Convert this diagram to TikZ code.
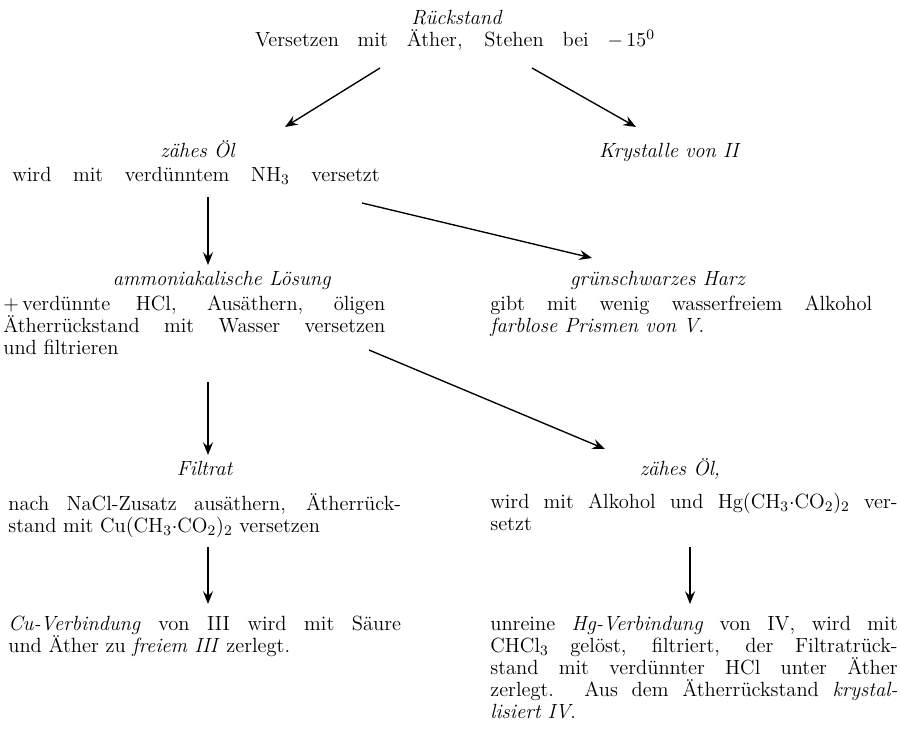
\documentclass[tikz,border=0pt]{standalone}
\usepackage{amsmath}
\usetikzlibrary{arrows.meta}

\begin{document}
\begin{tikzpicture}[x=0.55pt, y=-0.55pt,
	zeile/.style={inner sep=0pt, anchor=base, font=\fontsize{11.3}{12.1}\selectfont},
	absatz/.style={inner sep=0pt, anchor=north west, align=justify, font=\fontsize{11.3}{12.1}\selectfont, execute at begin node={\tolerance=10000\hbadness=10000\relax}},
	pfeil/.style={-{Stealth[length=7pt,width=5.5pt,inset=2.5pt]}, line width=0.75pt}]
			\useasboundingbox (0,0) rectangle (900,734);

			\draw (457,25) node[zeile] (rueck) {\textit{Rückstand}};
			\draw (455,47) node[zeile] (vers) {\makebox[220pt][s]{Versetzen mit Äther, Stehen bei $-\,15^0$}};
			\draw (198,158) node[zeile] (oel) {\textit{zähes Öl}};
			\draw (670,158) node[zeile] (kryst) {\textit{Krystalle von II}};
			\draw (12,182) node[zeile, anchor=base west] (nh) {\makebox[202pt][s]{wird mit verdünntem NH$_3$ versetzt}};
			\draw (222,286) node[zeile] (ammon) {\textit{ammoniakalische Lösung}};
			\draw (658,286) node[zeile] (harz) {\textit{grünschwarzes Harz}};
			\draw (3,295) node[absatz, text width=210pt] (loes) {+\,verdünnte HCl, Ausäthern, öligen\linebreak Ätherrückstand mit Wasser versetzen\linebreak und filtrieren};
			\draw (490,295) node[absatz, text width=210pt] (prism) {gibt mit wenig wasserfreiem Alkohol\linebreak \textit{farblose Prismen von V.}};
			\draw (205,475) node[zeile] (filtrat) {\textit{Filtrat}};
			\draw (680,475) node[zeile] (oelb) {\textit{zähes Öl,}};
			\draw (8,493) node[absatz, text width=216pt] (nacl) {nach NaCl-Zusatz ausäthern, Ätherrück-\linebreak stand mit Cu(CH$_3\cdot$CO$_2$)$_2$ versetzen};
			\draw (490,493) node[absatz, text width=224pt] (hgac) {wird mit Alkohol und Hg(CH$_3\cdot$CO$_2$)$_2$ ver-\linebreak setzt};
			\draw (8,616) node[absatz, text width=216pt] (cuv) {\textit{Cu-Verbindung} von III wird mit Säure\linebreak und Äther zu \textit{freiem III} zerlegt.};
			\draw (490,616) node[absatz, text width=224pt] (hgv) {unreine \textit{Hg-Verbindung} von IV, wird mit\linebreak CHCl$_3$ gelöst, filtriert, der Filtratrück-\linebreak stand mit verdünnter HCl unter Äther\linebreak zerlegt. Aus dem Ätherrückstand \textit{krystal-}\linebreak \textit{lisiert IV}.};

			\coordinate (vers-l) at (380,68);
			\coordinate (oel-p) at (285,127);
			\coordinate (vers-r) at (532,68);
			\coordinate (kryst-p) at (636,127);
			\coordinate (nh-u) at (208,197);
			\coordinate (ammon-p) at (208,265);
			\coordinate (nh-r) at (362,203);
			\coordinate (harz-p) at (592,258);
			\coordinate (loes-u) at (208,382);
			\coordinate (filtrat-p) at (208,455);
			\coordinate (loes-r) at (369,350);
			\coordinate (oelb-p) at (605,449);
			\coordinate (nacl-u) at (208,547);
			\coordinate (cuv-p) at (208,604);
			\coordinate (hgac-u) at (690,547);
			\coordinate (hgv-p) at (690,604);

			\path[pfeil]
			(vers-l) edge (oel-p)
			(vers-r) edge (kryst-p)
			(nh-u) edge (ammon-p)
			(nh-r) edge (harz-p)
			(loes-u) edge (filtrat-p)
			(loes-r) edge (oelb-p)
			(nacl-u) edge (cuv-p)
			(hgac-u) edge (hgv-p)
			;
		\end{tikzpicture}
\end{document}
